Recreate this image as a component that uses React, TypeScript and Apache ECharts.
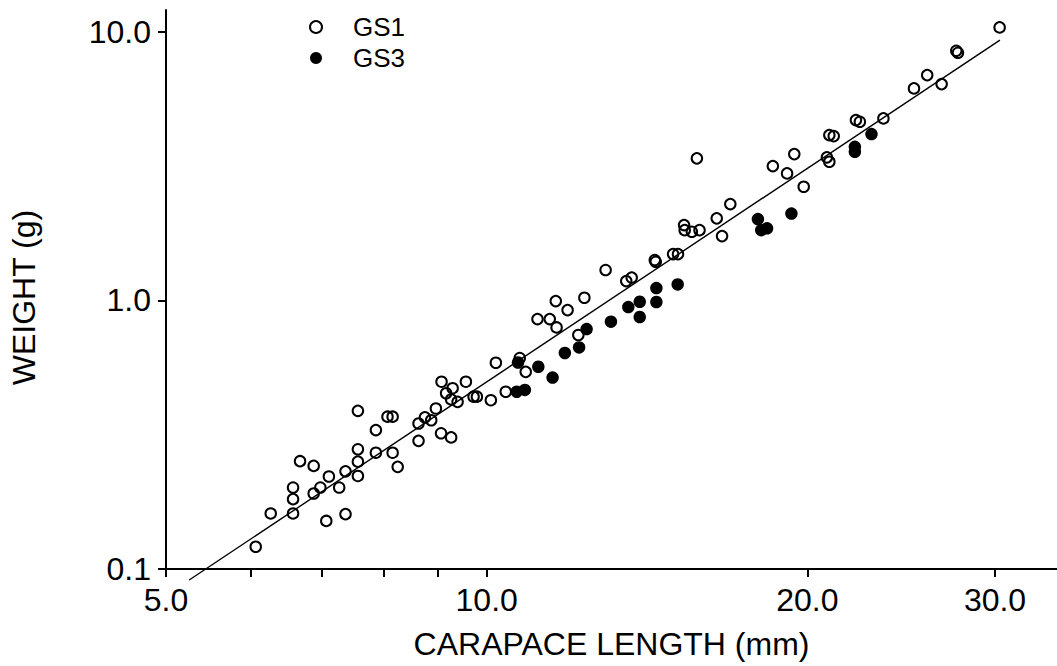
import React, { useEffect, useRef } from "react";
import * as echarts from "echarts";

// GS1 (open circles): carapace length (mm), weight (g)
const gs1Length = [
  6.07, 6.27, 6.58, 6.58, 6.58, 6.68, 6.88, 6.88, 6.98, 7.11, 7.07, 7.27, 7.37, 7.37,
  7.57, 7.57, 7.57, 7.57, 7.87, 7.87, 8.07, 8.16, 8.16, 8.25, 8.63, 8.63, 8.75, 8.87,
  8.96, 9.06, 9.26, 9.07, 9.16, 9.29, 9.26, 9.39, 9.56, 9.72, 9.79, 10.09, 10.2, 10.42,
  10.74, 10.88, 11.63, 11.16, 11.46, 11.61, 11.91, 12.35, 12.93, 13.52, 13.68, 14.38,
  14.41, 14.96, 15.12, 12.19, 15.75, 15.32, 15.34, 15.58, 15.84, 16.44, 16.63, 16.93,
  18.56, 19.14, 19.44, 19.84, 20.97, 21.17, 20.86, 20.97, 22.21, 22.4, 23.57, 25.18,
  25.91, 26.73, 27.59, 27.69, 30.3,
];
const gs1Weight = [
  0.121, 0.161, 0.161, 0.182, 0.201, 0.252, 0.242, 0.191, 0.201, 0.221, 0.151, 0.201, 0.231, 0.16,
  0.388, 0.279, 0.251, 0.222, 0.329, 0.271, 0.369, 0.369, 0.271, 0.24, 0.348, 0.3, 0.367, 0.358,
  0.396, 0.32, 0.309, 0.498, 0.451, 0.471, 0.428, 0.419, 0.498, 0.438, 0.438, 0.425, 0.586, 0.457,
  0.61, 0.542, 0.793, 0.852, 0.852, 0.994, 0.92, 1.023, 1.297, 1.18, 1.216, 1.413,
  1.392, 1.487, 1.487, 0.743, 3.379, 1.907, 1.826, 1.8, 1.826, 2.02, 1.735, 2.283,
  3.162, 2.97, 3.504, 2.648, 4.124, 4.089, 3.407, 3.281, 4.69, 4.622, 4.758, 6.153,
  6.896, 6.385, 8.494, 8.349, 10.38,
];

// GS3 (filled circles)
const gs3Length = [
  10.7, 11.18, 10.67, 10.86, 11.53, 11.84, 12.21, 12.41, 13.08, 13.58, 13.92, 13.92,
  14.43, 14.43, 15.11, 17.97, 18.1, 18.33, 19.32, 22.16, 22.16, 22.97,
];
const gs3Weight = [
  0.587, 0.566, 0.457, 0.464, 0.516, 0.637, 0.668, 0.782, 0.833, 0.944, 0.988, 0.867,
  1.111, 0.986, 1.147, 2.007, 1.826, 1.854, 2.104, 3.73, 3.574, 4.159,
];

// Fitted regression line end points
const fitLength = [5.257, 30.32];
const fitWeight = [0.091, 9.31];

const xTickValues = [5, 6, 7, 8, 9, 10, 20, 30];
const xLabelValues = [5, 10, 20, 30];
const yLabelValues = [0.1, 1, 10];
const X_MIN = 5;
const X_MAX = 34.3;
const Y_MIN = 0.1;
const Y_MAX = 12.05;

const lg = (v: number) => Math.log10(v);
const pairs = (xs: number[], ys: number[]) => xs.map((x, i) => [lg(x), lg(ys[i])]);

const FONT = "Liberation Sans";

export default function App() {
  const ref = useRef<HTMLDivElement>(null);
  useEffect(() => {
    if (!ref.current) return;
    const chart = echarts.init(ref.current, null, { renderer: "svg" });
    const axisCommon = {
      type: "value" as const,
      splitLine: { show: false },
      axisLine: { show: true, onZero: false, lineStyle: { color: "#000", width: 2 } },
      axisTick: { show: true, inside: false, length: 8, lineStyle: { color: "#000", width: 2 } },
      nameTextStyle: { fontFamily: FONT, fontSize: 32, color: "#000" },
      nameLocation: "middle" as const,
    };
    chart.setOption({
      animation: false,
      backgroundColor: "#fff",
      grid: { left: 163.5, right: 0, top: 10, bottom: 97 },
      legend: {
        orient: "vertical",
        left: 304,
        top: 9,
        itemWidth: 64,
        itemHeight: 12,
        itemGap: 5,
        textStyle: { fontFamily: FONT, fontSize: 26, color: "#000" },
        data: ["GS1", "GS3"],
      },
      xAxis: {
        ...axisCommon,
        min: lg(X_MIN),
        max: lg(X_MAX),
        name: "CARAPACE LENGTH (mm)",
        nameGap: 59,
        axisTick: { ...axisCommon.axisTick, customValues: xTickValues.map(lg) },
        axisLabel: {
          customValues: xLabelValues.map(lg),
          margin: 15,
          fontFamily: FONT,
          fontSize: 32,
          color: "#000",
          formatter: (v: number) => Math.pow(10, v).toFixed(1),
        },
      },
      yAxis: {
        ...axisCommon,
        min: lg(Y_MIN),
        max: lg(Y_MAX),
        name: "WEIGHT (g)",
        nameGap: 126,
        nameRotate: 90,
        nameTextStyle: { ...axisCommon.nameTextStyle, padding: [0, 16, 0, 0] },
        axisTick: { ...axisCommon.axisTick, customValues: yLabelValues.map(lg) },
        axisLabel: {
          customValues: yLabelValues.map(lg),
          margin: 15,
          fontFamily: FONT,
          fontSize: 32,
          color: "#000",
          formatter: (v: number) => Math.pow(10, v).toFixed(1),
        },
      },
      series: [
        {
          name: "fit",
          type: "line",
          data: pairs(fitLength, fitWeight),
          symbol: "none",
          clip: false,
          lineStyle: { color: "#000", width: 1.4 },
          z: 1,
        },
        {
          name: "GS3",
          type: "scatter",
          data: pairs(gs3Length, gs3Weight),
          symbol: "circle",
          symbolSize: 12.5,
          itemStyle: { color: "#000", borderWidth: 0, opacity: 1 },
          z: 2,
        },
        {
          name: "GS1",
          type: "scatter",
          data: pairs(gs1Length, gs1Weight),
          symbol: "circle",
          symbolSize: 10.5,
          itemStyle: { color: "rgba(0,0,0,0)", borderColor: "#000", borderWidth: 2, opacity: 1 },
          z: 3,
        },
      ],
    });
    return () => chart.dispose();
  }, []);
  return (
    <div
      ref={ref}
      style={{ position: "fixed", left: 0, top: 0, width: 1057, height: 666, background: "#fff" }}
    />
  );
}
